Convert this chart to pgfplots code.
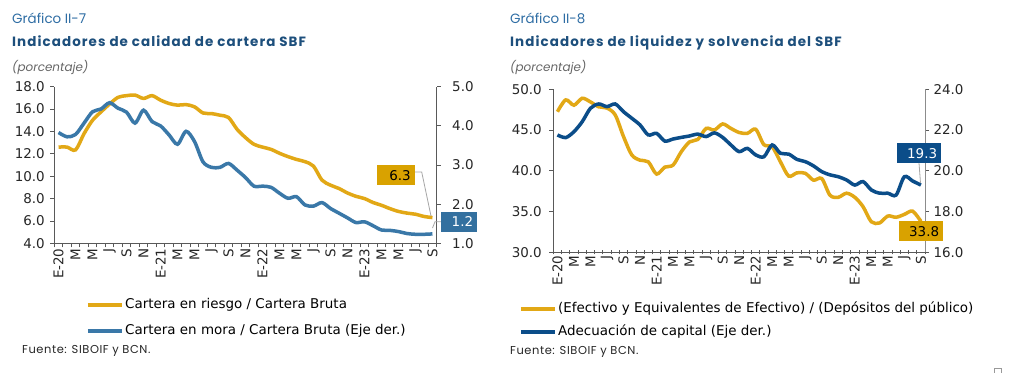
\documentclass[border=0pt]{standalone}
\usepackage{pgfplots}
\usepackage{pgfplotstable}
\pgfplotsset{compat=1.18}
\usepackage{fontspec}
\setmainfont{DejaVu Sans}
\newfontfamily\titlefont{Poppins}
\newfontfamily\titlefontsp[LetterSpace=8]{Poppins}
\newfontfamily\srcfont[LetterSpace=5]{Poppins}
\definecolor{cOr}{HTML}{E2A816}
\definecolor{cBl}{HTML}{3A78A8}
\definecolor{cNv}{HTML}{0B4D89}
\definecolor{cBoxOr}{HTML}{D9A200}
\definecolor{cBoxBl}{HTML}{33709F}
\definecolor{cTitle}{HTML}{1D4F7C}
\definecolor{cSub}{HTML}{2E6DA4}
\definecolor{cAx}{HTML}{595959}
\definecolor{cLead}{HTML}{A6A6A6}

\pgfplotstableread{
m riesgo mora
0 12.60 3.83
1 12.60 3.72
2 12.35 3.78
3 13.80 4.07
4 15.00 4.36
5 15.75 4.43
6 16.45 4.59
7 17.05 4.45
8 17.20 4.35
9 17.25 4.07
10 16.95 4.40
11 17.20 4.11
12 16.80 4.00
13 16.50 3.77
14 16.35 3.53
15 16.40 3.86
16 16.20 3.60
17 15.65 3.08
18 15.60 2.94
19 15.45 2.94
20 15.25 3.04
21 14.20 2.87
22 13.45 2.68
23 12.85 2.46
24 12.60 2.46
25 12.40 2.43
26 12.05 2.28
27 11.75 2.15
28 11.50 2.19
29 11.30 1.98
30 10.90 1.95
31 9.65 2.04
32 9.20 1.89
33 8.90 1.77
34 8.50 1.65
35 8.20 1.53
36 8.00 1.55
37 7.65 1.45
38 7.40 1.34
39 7.10 1.33
40 6.85 1.30
41 6.70 1.25
42 6.60 1.23
43 6.40 1.23
44 6.30 1.24
}\leftdata

\pgfplotstableread{
m efectivo adecuacion
0 47.25 21.76
1 48.70 21.63
2 48.05 21.92
3 48.90 22.41
4 48.45 23.07
5 47.85 23.28
6 47.70 23.15
7 46.85 23.28
8 44.20 22.90
9 41.95 22.58
10 41.30 22.25
11 41.10 21.76
12 39.60 21.84
13 40.45 21.46
14 40.70 21.56
15 42.35 21.64
16 43.55 21.71
17 43.85 21.80
18 45.20 21.68
19 45.00 21.86
20 45.75 21.64
21 45.20 21.27
22 44.70 20.94
23 44.60 21.10
24 45.10 20.78
25 43.20 20.69
26 42.95 21.27
27 41.10 20.86
28 39.35 20.82
29 39.75 20.56
30 39.70 20.45
31 38.85 20.24
32 39.05 19.96
33 37.00 19.80
34 36.75 19.71
35 37.25 19.55
36 36.75 19.30
37 35.60 19.47
38 33.75 19.06
39 33.60 18.90
40 34.45 18.90
41 34.30 18.81
42 34.65 19.71
43 35.05 19.50
44 33.80 19.30
}\rightdata

\newcommand{\tfs}{\fontsize{13.5}{15}\selectfont}
\pgfplotsset{
  base/.style={
    scale only axis,
    xmin=-0.5, xmax=44.5,
    axis line style={-, cAx, line width=0.9bp},
    tick style={cAx, line width=0.8bp},
    ticklabel style={font=\tfs, text=black!85},
    major tick length=4bp, minor tick length=4bp,
    tick align=outside,
    yticklabel={\pgfmathprintnumber[fixed,fixed zerofill,precision=1,assume math mode=true]{\tick}},
  },
  xcat/.style={
    axis x line*=bottom,
    xtick={0,2,...,44},
    xticklabels={E-20,M,M,J,S,N,E-21,M,M,J,S,N,E-22,M,M,J,S,N,E-23,M,M,J,S},
    xticklabel style={rotate=90, anchor=east, inner sep=1bp},
    major x tick style={draw=none},
    minor xtick={-0.5,0.5,...,44.5},
  },
  ser/.style={line width=3.5bp, smooth, tension=0.5, no marks},
  legend image code/.code={\draw[#1,line width=3.5bp] (0bp,0bp) -- (34bp,0bp);},
}

\begin{document}
\begin{tikzpicture}
\path[use as bounding box, fill=white] (0,0) rectangle (1011bp,-373bp);

% ===== Left chart =====
\node[anchor=base west, font=\titlefont\fontsize{13.5}{15}\selectfont, text=cSub, inner sep=0] at (12bp,-23bp) {Gráfico II-7};
\node[anchor=base west, font=\titlefontsp\bfseries\fontsize{13.5}{15}\selectfont, text=cTitle, inner sep=0] at (12bp,-46bp) {Indicadores de calidad de cartera SBF};
\node[anchor=base west, font=\titlefont\itshape\fontsize{12}{15}\selectfont, text=black!60, inner sep=0] at (12bp,-71bp) {(porcentaje)};

\begin{axis}[base, xcat,
  at={(54.3bp,-243.3bp)}, anchor=south west,
  width=382.4bp, height=156.6bp,
  axis y line*=left,
  ymin=4, ymax=18, ytick={4,6,...,18},
  yticklabel style={xshift=-2bp},
  legend style={at={(axis description cs:0.083,-0.342)}, anchor=north west,
    draw=none, fill=none, inner sep=0pt, font=\tfs, row sep=9.7bp,
    nodes={text height=10bp, text depth=3bp, inner sep=1.5bp}},
  legend cell align=left,
]
\addplot[ser, cOr] table[x=m, y=riesgo] {\leftdata};
\addlegendentry{Cartera en riesgo / Cartera Bruta}
\addlegendimage{cBl}
\addlegendentry{Cartera en mora / Cartera Bruta (Eje der.)}
\end{axis}
\begin{axis}[base,
  at={(54.3bp,-243.3bp)}, anchor=south west,
  width=382.4bp, height=156.6bp,
  axis x line=none,
  axis y line*=right,
  ymin=1, ymax=5, ytick={1,2,...,5},
  yticklabel style={xshift=8bp},
]
\addplot[ser, cBl] table[x=m, y=mora] {\leftdata};
\end{axis}

\draw[cLead, line width=0.8bp] (415bp,-172bp) -- (421.7bp,-172bp) -- (431bp,-216bp);
\draw[cLead, line width=0.8bp] (441bp,-221.7bp) -- (435bp,-221.7bp) -- (432.5bp,-228bp);
\fill[cBoxOr] (377bp,-165bp) rectangle (415bp,-185bp);
\node[anchor=base east, font=\tfs, text=black, inner sep=0] at (411bp,-180bp) {6.3};
\fill[cBoxBl] (441bp,-211.7bp) rectangle (477bp,-231.7bp);
\node[anchor=base east, font=\tfs, text=white, inner sep=0] at (473.3bp,-226.7bp) {1.2};

\node[anchor=base west, font=\srcfont\fontsize{11.5}{13}\selectfont, text=black!85, inner sep=0] at (22bp,-353bp) {Fuente: SIBOIF y BCN.};

% ===== Right chart =====
\node[anchor=base west, font=\titlefont\fontsize{13.5}{15}\selectfont, text=cSub, inner sep=0] at (510bp,-23bp) {Gráfico II-8};
\node[anchor=base west, font=\titlefontsp\bfseries\fontsize{13.5}{15}\selectfont, text=cTitle, inner sep=0] at (510bp,-46bp) {Indicadores de liquidez y solvencia del SBF};
\node[anchor=base west, font=\titlefont\itshape\fontsize{12}{15}\selectfont, text=black!60, inner sep=0] at (510bp,-71bp) {(porcentaje)};

\begin{axis}[base, xcat,
  at={(553.3bp,-252.3bp)}, anchor=south west,
  width=371.7bp, height=163bp,
  axis y line*=left,
  xtick align=center,
  ymin=30, ymax=50, ytick={30,35,...,50},
  yticklabel style={xshift=-4bp},
  legend style={at={(axis description cs:-0.0923,-0.2975)}, anchor=north west,
    draw=none, fill=none, inner sep=0pt, font=\tfs, row sep=7bp,
    nodes={text height=10bp, text depth=3bp, inner sep=1.5bp}},
  legend cell align=left,
]
\addplot[ser, cOr] table[x=m, y=efectivo] {\rightdata};
\addlegendentry{(Efectivo y Equivalentes de Efectivo) / (Depósitos del público)}
\addlegendimage{cNv}
\addlegendentry{Adecuación de capital (Eje der.)}
\end{axis}
\begin{axis}[base,
  at={(553.3bp,-252.3bp)}, anchor=south west,
  width=371.7bp, height=163bp,
  axis x line=none,
  axis y line*=right,
  axis line style={-, black!45, line width=0.9bp},
  ymin=16, ymax=24, ytick={16,18,...,24},
  yticklabel style={xshift=1bp},
]
\addplot[ser, cNv] table[x=m, y=adecuacion] {\rightdata};
\end{axis}

\draw[cLead, line width=0.8bp] (919bp,-163bp) -- (920.5bp,-183bp);
\fill[cNv] (896.7bp,-143bp) rectangle (941bp,-163bp);
\node[anchor=base east, font=\tfs, text=white, inner sep=0] at (937.3bp,-158bp) {19.3};
\fill[cBoxOr] (899bp,-221bp) rectangle (943bp,-241bp);
\node[anchor=base east, font=\tfs, text=black, inner sep=0] at (939.3bp,-236bp) {33.8};

\node[anchor=base west, font=\srcfont\fontsize{11.5}{13}\selectfont, text=black!85, inner sep=0] at (510bp,-354bp) {Fuente: SIBOIF y BCN.};

\draw[black!40, line width=0.6bp] (994bp,-368bp) rectangle (1001bp,-375bp);
\end{tikzpicture}
\end{document}
